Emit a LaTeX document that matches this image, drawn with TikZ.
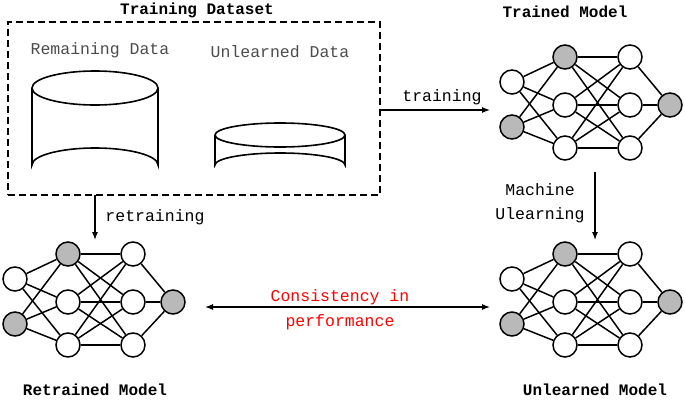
\documentclass[tikz,border=0pt]{standalone}
\usepackage{fontspec}
\setmainfont{Liberation Mono}
\usetikzlibrary{arrows.meta}
\begin{document}
\begin{tikzpicture}[x=1pt,y=-1pt,
  neu/.style={circle,draw,line width=1.5pt,minimum size=24pt,inner sep=0pt,fill=white},
  gneu/.style={neu,fill=gray!55},
  edge/.style={line width=1.5pt},
  arr/.style={-{Latex[length=8pt,width=6pt]},line width=1.1pt},
  lbl/.style={font=\fontsize{16.5}{18}\selectfont},
  ttl/.style={font=\bfseries\fontsize{16}{18}\selectfont}]
\useasboundingbox (0,0) rectangle (685,402);
\newcommand{\mynet}[3]{%
  \begin{scope}[shift={(#2,#3)}]
  \node[neu] (#1i1) at (0,-23) {};
  \node[gneu] (#1i2) at (0,22) {};
  \node[gneu] (#1a1) at (53,-48) {};
  \node[neu] (#1a2) at (53,0) {};
  \node[neu] (#1a3) at (53,43) {};
  \node[neu] (#1b1) at (118,-48) {};
  \node[neu] (#1b2) at (118,0) {};
  \node[neu] (#1b3) at (118,43) {};
  \node[gneu] (#1o) at (158,0) {};
  \foreach \i in {i1,i2}{\foreach \a in {a1,a2,a3}{\draw[edge] (#1\i) -- (#1\a);}}
  \foreach \a in {a1,a2,a3}{\foreach \b in {b1,b2,b3}{\draw[edge] (#1\a) -- (#1\b);}}
  \foreach \b in {b1,b2,b3}{\draw[edge] (#1\b) -- (#1o);}
  \end{scope}}
\mynet{t}{512}{105}
\mynet{u}{512}{302}
\mynet{r}{15}{302}
% dataset box
\node[draw,dash pattern=on 7pt off 4pt,line width=2.2pt,minimum width=372pt,minimum height=173pt,inner sep=0pt] (box) at (194,108.5) {};
\node[ttl] (tds) at (197,10) {Training Dataset};
\node[lbl,text=black!70] (rem) at (100,50) {Remaining Data};
\node[lbl,text=black!70] (unl) at (280,52) {Unlearned Data};
% big cylinder
\draw[line width=1.6pt,fill=white] (32,88) -- (32,165) arc[start angle=180,end angle=360,x radius=63,y radius=17] -- (158,88);
\draw[line width=1.6pt,fill=white] (95,88) ellipse[x radius=63,y radius=17];
% small cylinder
\draw[line width=1.6pt,fill=white] (215,135) -- (215,165) arc[start angle=180,end angle=360,x radius=65,y radius=12] -- (345,135);
\draw[line width=1.6pt,fill=white] (280,135) ellipse[x radius=65,y radius=12];
\coordinate (bxr) at (380,110);
\coordinate (bxb) at (95,195);
\draw[arr] (bxr) -- (490,110) coordinate (tr);
\node[lbl] (ltr) at (442,97) {training};
\draw[arr] (bxb) -- (95,240) coordinate (rt);
\node[lbl] (lrt) at (155,217) {retraining};
\draw[arr] (595,172) coordinate (mu1) -- (595,240) coordinate (mu2);
\node[lbl] (lmu1) at (540,190) {Machine};
\node[lbl] (lmu2) at (540,215) {Ulearning};
\draw[{Latex[length=8pt,width=6pt]}-{Latex[length=8pt,width=6pt]},line width=1.1pt] (205,307) coordinate (c1) -- (490,307) coordinate (c2);
\node[lbl,text=red] (cons1) at (340,297) {Consistency in};
\node[lbl,text=red] (cons2) at (340,322) {performance};
\node[ttl] (tm) at (565,12) {Trained Model};
\node[ttl] (rm) at (95,390) {Retrained Model};
\node[ttl] (um) at (595,390) {Unlearned Model};
\end{tikzpicture}
\end{document}
